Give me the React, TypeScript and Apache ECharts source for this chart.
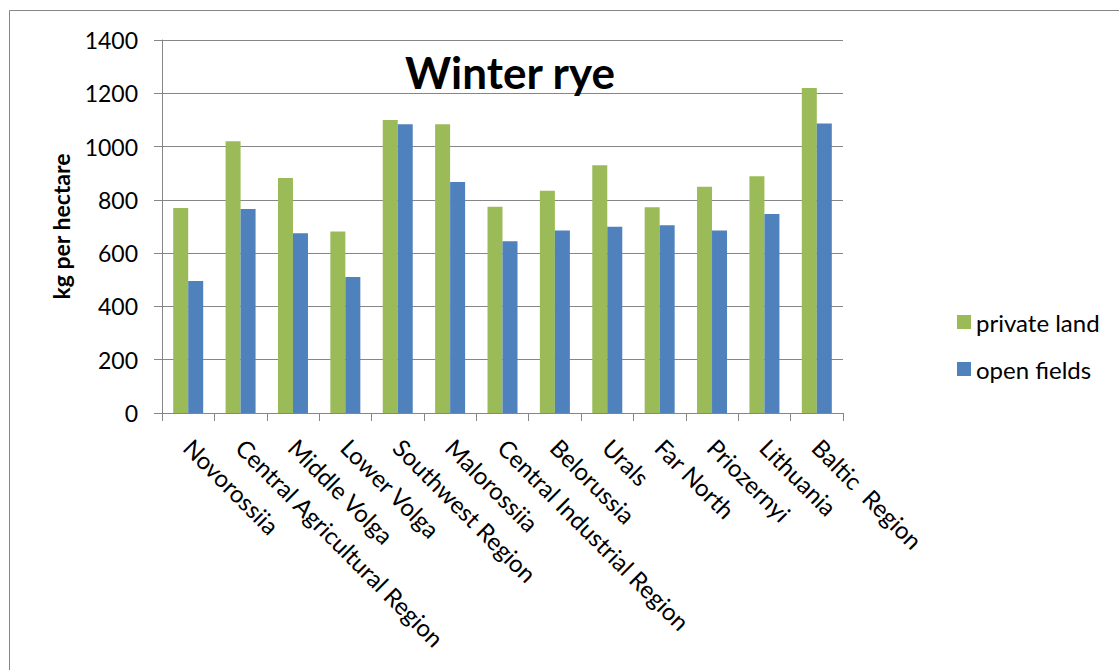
import React, { useEffect, useRef } from "react";
import * as echarts from "echarts";

const categories = [
  "Novorossiia",
  "Central Agricultural Region",
  "Middle Volga",
  "Lower Volga",
  "Southwest Region",
  "Malorossiia",
  "Central Industrial Region",
  "Belorussia",
  "Urals",
  "Far North",
  "Priozernyi",
  "Lithuania",
  "Baltic  Region",
];
const privateLand = [769, 1020, 882, 681, 1100, 1084, 774, 834, 930, 772, 849, 889, 1220];
const openFields = [495, 766, 675, 510, 1084, 867, 645, 685, 699, 705, 685, 747, 1087];
const yTicks = { min: 0, max: 1400, interval: 200 };

const FONT = "Lato, 'Open Sans', sans-serif";

export default function App() {
  const ref = useRef<HTMLDivElement>(null);
  useEffect(() => {
    const chart = echarts.init(ref.current!, null, { renderer: "svg" });
    chart.setOption({
      animation: false,
      backgroundColor: "#ffffff",
      textStyle: { fontFamily: FONT },
      title: {
        text: "Winter rye",
        left: 505,
        top: 45,
        textAlign: "center",
        textStyle: { fontSize: 44, fontWeight: "bold", color: "#000", fontFamily: FONT },
      },
      graphic: [
        {
          type: "rect",
          shape: { x: 9.5, y: 10.5, width: 1300, height: 900 },
          style: { fill: "none", stroke: "#868686", lineWidth: 1 },
          silent: true,
        },
      ],
      legend: {
        orient: "vertical",
        left: 952,
        top: 305,
        icon: "rect",
        itemWidth: 14,
        itemHeight: 14,
        itemGap: 23,
        textStyle: { fontSize: 24, color: "#000", fontFamily: FONT, padding: [0, 0, 0, 0] },
        data: ["private land", "open fields"],
      },
      grid: { left: 162, right: 276, top: 40, bottom: 257, containLabel: false },
      xAxis: {
        type: "category",
        data: categories,
        boundaryGap: true,
        axisLine: { lineStyle: { color: "#868686", width: 1 } },
        axisTick: { show: true, length: 8, alignWithLabel: false, lineStyle: { color: "#868686" } },
        axisLabel: {
          rotate: -45,
          interval: 0,
          margin: 30,
          fontSize: 24,
          color: "#000",
          fontFamily: FONT,
        },
      },
      yAxis: {
        type: "value",
        min: yTicks.min,
        max: yTicks.max,
        interval: yTicks.interval,
        name: "kg per hectare",
        nameLocation: "middle",
        nameGap: 90,
        nameTextStyle: { fontSize: 23, fontWeight: "bold", color: "#000", fontFamily: FONT },
        axisLine: { show: true, lineStyle: { color: "#868686", width: 1 } },
        axisTick: { show: true, length: 8, lineStyle: { color: "#868686" } },
        splitLine: { lineStyle: { color: "#868686", width: 1 } },
        axisLabel: {
          fontSize: 23,
          color: "#000",
          margin: 24,
          fontFamily: FONT,
          formatter: (v: number) => String(v),
        },
      },
      series: [
        {
          name: "private land",
          type: "bar",
          data: privateLand,
          barWidth: 15,
          barGap: "0%",
          itemStyle: { color: "#9BBB59" },
        },
        {
          name: "open fields",
          type: "bar",
          data: openFields,
          barWidth: 15,
          barGap: "0%",
          itemStyle: { color: "#4F81BD" },
        },
      ],
    });
    return () => chart.dispose();
  }, []);
  return (
    <div
      ref={ref}
      style={{ position: "fixed", left: 0, top: 0, width: 1119, height: 670 }}
    />
  );
}
